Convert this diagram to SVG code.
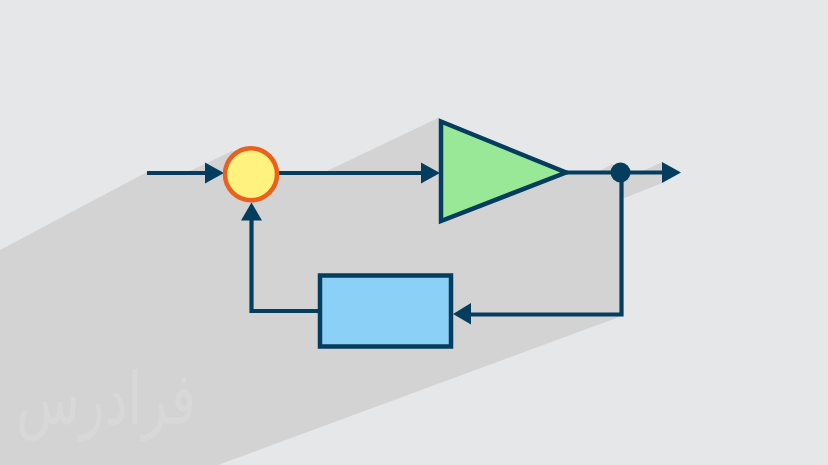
<svg xmlns="http://www.w3.org/2000/svg" width="828" height="465" viewBox="0 0 828 465">
<defs>
<style>
.w{fill:none;stroke:#053d5f;stroke-width:4.200}
.h{fill:#053d5f}
.n{stroke:#053d5f;stroke-width:4.500}
</style>
</defs>
<rect width="828" height="465" fill="#e6e7e9"/>
<polygon points="0,250 147,172 190,171 232,151 280,171 327,171 438,118 568,172 600,171 612,164 632,171 643,171 662,162 662,183 622,199 622,316 218,465 0,465" fill="#d3d3d3"/>
<text transform="translate(106 424) scale(1 1.4)" text-anchor="middle" font-family="'DejaVu Sans',sans-serif" font-size="52" fill="#d8d8d8">فرادرس</text>
<g id="connectors">
<path class="w" d="M147 173H206"/>
<polygon class="h" points="205,162.500 224,173 205,183.500"/>
<path class="w" d="M278 173H422"/>
<polygon class="h" points="421,162.500 440,173 421,183.500"/>
<path class="w" d="M566 172.500H662"/>
<polygon class="h" points="662,162 681,172.500 662,183"/>
<path class="w" d="M621.500 172V314.500H468"/>
<polygon class="h" points="471,303 453,314 471,324.500"/>
<path class="w" d="M319 311H251.500V218"/>
<polygon class="h" points="241,220.500 251.500,202.500 262,220.500"/>
</g>
<g id="sum"><circle cx="251" cy="174.300" r="26" fill="#fff27f" stroke="#e9601f" stroke-width="4.500"/></g>
<g id="amp"><polygon class="n" points="441,121.500 566,172.500 441,221" fill="#98e898"/></g>
<g id="junction"><circle cx="620.500" cy="172.500" r="10" fill="#053d5f"/></g>
<g id="feedback"><rect class="n" x="320" y="275.500" width="131" height="71" fill="#8bd0f7"/></g>
</svg>
